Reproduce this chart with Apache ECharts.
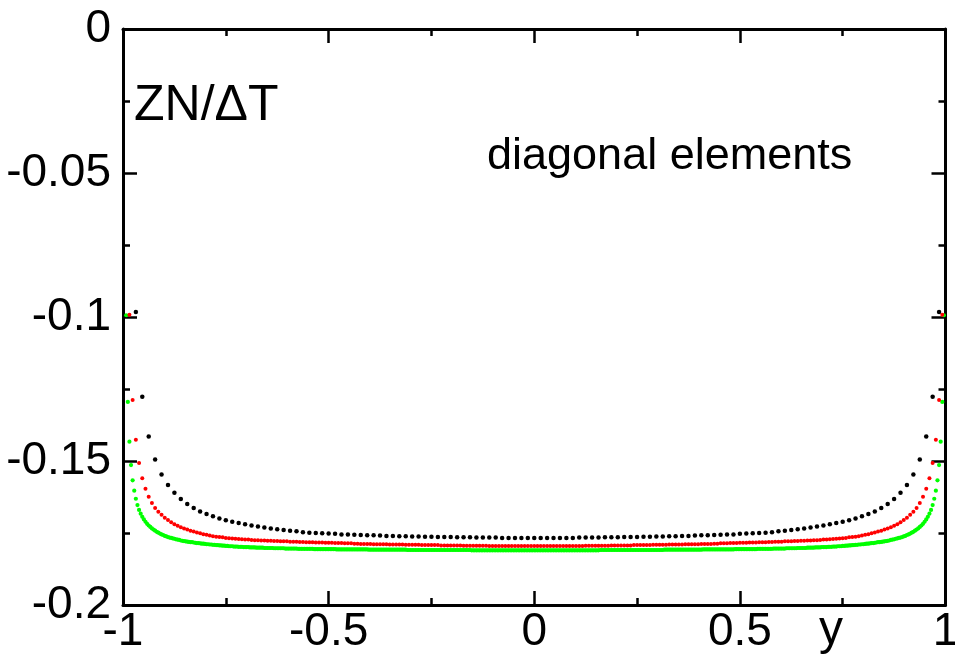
<!DOCTYPE html>
<html>
<head>
<meta charset="utf-8">
<script src="https://cdn.jsdelivr.net/npm/echarts@6/dist/echarts.min.js"></script>
<style>
  html, body { margin: 0; padding: 0; background: #fff; }
  #chart { width: 955px; height: 656px; }
</style>
</head>
<body>
<div id="chart"></div>
<script>
// diagonal elements of ZN/dT on three grids, y values in units of 1e-4
// grid points j = 2 .. N-1, x = -1 + 2j/N
const blackN = 128
const redN = 256
const greenN = 512

const blackY = [
  -983,-1277,-1415,-1495,-1547,-1583,-1610,-1632,-1649,-1663,
  -1675,-1684,-1692,-1700,-1706,-1711,-1715,-1720,-1724,-1727,
  -1731,-1734,-1737,-1740,-1742,-1744,-1747,-1749,-1750,-1751,
  -1752,-1753,-1755,-1755,-1756,-1757,-1758,-1758,-1759,-1760,
  -1760,-1761,-1761,-1762,-1762,-1763,-1763,-1764,-1764,-1764,
  -1765,-1765,-1765,-1766,-1766,-1766,-1766,-1767,-1767,-1767,
  -1767,-1767,-1767,
  -1767,-1767,-1767,-1767,-1767,-1767,-1766,-1766,-1766,-1766,
  -1765,-1765,-1765,-1764,-1764,-1764,-1763,-1763,-1762,-1762,
  -1761,-1761,-1760,-1760,-1759,-1758,-1758,-1757,-1756,-1755,
  -1755,-1753,-1752,-1751,-1750,-1749,-1747,-1744,-1742,-1740,
  -1737,-1734,-1731,-1727,-1724,-1720,-1715,-1711,-1706,-1700,
  -1692,-1684,-1675,-1663,-1649,-1632,-1610,-1583,-1547,-1495,
  -1415,-1277,-983
]

const redY = [
  -992,-1288,-1426,-1507,-1560,-1596,-1624,-1646,-1663,-1676,
  -1687,-1697,-1705,-1713,-1720,-1725,-1730,-1734,-1738,-1742,
  -1745,-1748,-1751,-1754,-1756,-1759,-1761,-1763,-1764,-1765,
  -1767,-1768,-1769,-1770,-1771,-1772,-1773,-1773,-1774,-1775,
  -1775,-1776,-1776,-1777,-1777,-1778,-1778,-1779,-1779,-1779,
  -1780,-1780,-1780,-1781,-1781,-1782,-1782,-1782,-1783,-1783,
  -1783,-1784,-1784,-1784,-1785,-1785,-1785,-1786,-1786,-1786,
  -1787,-1787,-1788,-1788,-1788,-1788,-1789,-1789,-1789,-1789,
  -1789,-1790,-1790,-1790,-1790,-1790,-1791,-1791,-1791,-1791,
  -1791,-1792,-1792,-1792,-1792,-1792,-1792,-1793,-1793,-1793,
  -1793,-1793,-1793,-1793,-1794,-1794,-1794,-1794,-1794,-1794,
  -1794,-1794,-1795,-1795,-1795,-1795,-1795,-1795,-1795,-1795,
  -1795,-1795,-1795,-1795,-1795,-1795,-1795,
  -1795,-1795,-1795,-1795,-1795,-1795,-1795,
  -1795,-1795,-1795,-1795,-1795,-1795,-1795,-1795,-1794,-1794,
  -1794,-1794,-1794,-1794,-1794,-1794,-1793,-1793,-1793,-1793,
  -1793,-1793,-1793,-1792,-1792,-1792,-1792,-1792,-1792,-1791,
  -1791,-1791,-1791,-1791,-1790,-1790,-1790,-1790,-1790,-1789,
  -1789,-1789,-1789,-1789,-1788,-1788,-1788,-1788,-1787,-1787,
  -1786,-1786,-1786,-1785,-1785,-1785,-1784,-1784,-1784,-1783,
  -1783,-1783,-1782,-1782,-1782,-1781,-1781,-1780,-1780,-1780,
  -1779,-1779,-1779,-1778,-1778,-1777,-1777,-1776,-1776,-1775,
  -1775,-1774,-1773,-1773,-1772,-1771,-1770,-1769,-1768,-1767,
  -1765,-1764,-1763,-1761,-1759,-1756,-1754,-1751,-1748,-1745,
  -1742,-1738,-1734,-1730,-1725,-1720,-1713,-1705,-1697,-1687,
  -1676,-1663,-1646,-1624,-1596,-1560,-1507,-1426,-1288,-992
]

const greenY = [
  -994,-1295,-1433,-1514,-1567,-1603,-1631,-1653,-1670,-1683,
  -1694,-1703,-1711,-1718,-1724,-1729,-1734,-1738,-1742,-1746,
  -1749,-1752,-1755,-1757,-1760,-1762,-1764,-1766,-1767,-1769,
  -1770,-1772,-1773,-1774,-1776,-1777,-1778,-1779,-1780,-1781,
  -1782,-1782,-1783,-1784,-1785,-1785,-1786,-1787,-1787,-1788,
  -1789,-1789,-1790,-1790,-1791,-1791,-1792,-1792,-1793,-1793,
  -1794,-1794,-1795,-1795,-1796,-1796,-1796,-1797,-1797,-1797,
  -1798,-1798,-1798,-1799,-1799,-1799,-1799,-1800,-1800,-1800,
  -1800,-1801,-1801,-1801,-1801,-1801,-1802,-1802,-1802,-1802,
  -1802,-1802,-1803,-1803,-1803,-1803,-1803,-1803,-1803,-1804,
  -1804,-1804,-1804,-1804,-1804,-1804,-1804,-1805,-1805,-1805,
  -1805,-1805,-1805,-1805,-1805,-1805,-1805,-1806,-1806,-1806,
  -1806,-1806,-1806,-1806,-1806,-1806,-1806,-1806,-1806,-1806,
  -1806,-1807,-1807,-1807,-1807,-1807,-1807,-1807,-1807,-1807,
  -1807,-1807,-1807,-1807,-1807,-1807,-1807,-1807,-1807,-1807,
  -1807,-1808,-1808,-1808,-1808,-1808,-1808,-1808,-1808,-1808,
  -1808,-1808,-1808,-1808,-1808,-1808,-1808,-1808,-1808,-1808,
  -1808,-1808,-1808,-1808,-1808,-1809,-1809,-1809,-1809,-1809,
  -1809,-1809,-1809,-1809,-1809,-1809,-1809,-1809,-1809,-1809,
  -1809,-1809,-1809,-1809,-1809,-1809,-1809,-1809,-1809,-1809,
  -1809,-1809,-1809,-1809,-1809,-1809,-1809,-1809,-1809,-1809,
  -1809,-1809,-1809,-1809,-1809,-1810,-1810,-1810,-1810,-1810,
  -1810,-1810,-1810,-1810,-1810,-1810,-1810,-1810,-1810,-1810,
  -1810,-1810,-1810,-1810,-1810,-1810,-1810,-1810,-1810,-1810,
  -1810,-1810,-1810,-1810,-1810,-1810,-1810,-1810,-1810,-1810,
  -1810,-1810,-1810,-1810,-1810,
  -1810,-1810,-1810,-1810,-1810,
  -1810,-1810,-1810,-1810,-1810,-1810,-1810,-1810,-1810,-1810,
  -1810,-1810,-1810,-1810,-1810,-1810,-1810,-1810,-1810,-1810,
  -1810,-1810,-1810,-1810,-1810,-1810,-1810,-1810,-1810,-1810,
  -1810,-1810,-1810,-1810,-1810,-1809,-1809,-1809,-1809,-1809,
  -1809,-1809,-1809,-1809,-1809,-1809,-1809,-1809,-1809,-1809,
  -1809,-1809,-1809,-1809,-1809,-1809,-1809,-1809,-1809,-1809,
  -1809,-1809,-1809,-1809,-1809,-1809,-1809,-1809,-1809,-1809,
  -1809,-1809,-1809,-1809,-1809,-1808,-1808,-1808,-1808,-1808,
  -1808,-1808,-1808,-1808,-1808,-1808,-1808,-1808,-1808,-1808,
  -1808,-1808,-1808,-1808,-1808,-1808,-1808,-1808,-1808,-1807,
  -1807,-1807,-1807,-1807,-1807,-1807,-1807,-1807,-1807,-1807,
  -1807,-1807,-1807,-1807,-1807,-1807,-1807,-1807,-1807,-1806,
  -1806,-1806,-1806,-1806,-1806,-1806,-1806,-1806,-1806,-1806,
  -1806,-1806,-1806,-1805,-1805,-1805,-1805,-1805,-1805,-1805,
  -1805,-1805,-1805,-1804,-1804,-1804,-1804,-1804,-1804,-1804,
  -1804,-1803,-1803,-1803,-1803,-1803,-1803,-1803,-1802,-1802,
  -1802,-1802,-1802,-1802,-1801,-1801,-1801,-1801,-1801,-1800,
  -1800,-1800,-1800,-1799,-1799,-1799,-1799,-1798,-1798,-1798,
  -1797,-1797,-1797,-1796,-1796,-1796,-1795,-1795,-1794,-1794,
  -1793,-1793,-1792,-1792,-1791,-1791,-1790,-1790,-1789,-1789,
  -1788,-1787,-1787,-1786,-1785,-1785,-1784,-1783,-1782,-1782,
  -1781,-1780,-1779,-1778,-1777,-1776,-1774,-1773,-1772,-1770,
  -1769,-1767,-1766,-1764,-1762,-1760,-1757,-1755,-1752,-1749,
  -1746,-1742,-1738,-1734,-1729,-1724,-1718,-1711,-1703,-1694,
  -1683,-1670,-1653,-1631,-1603,-1567,-1514,-1433,-1295,-994
]

const xTicks = { min: -1, max: 1, interval: 0.5 }
const yTicks = { min: -0.2, max: 0, interval: 0.05 }

const toPoints = (ys, n) => ys.map((v, i) => [-1 + (i + 2) * 2 / n, v / 1e4])

const font = 'Liberation Sans, Arial, sans-serif'
const black = '#000'

const axisCommon = {
  type: 'value',
  axisLine: { show: true, onZero: false, lineStyle: { color: black, width: 3 } },
  axisTick: { show: true, inside: true, length: 14, lineStyle: { color: black, width: 2.5 } },
  minorTick: { show: true, splitNumber: 2, length: 7, lineStyle: { color: black, width: 2.5 } },
  splitLine: { show: false },
  minorSplitLine: { show: false }
}

const xAxisOf = (pos, showLabel) => ({
  ...axisCommon,
  ...xTicks,
  position: pos,
  axisLabel: { show: showLabel, fontSize: 46, fontFamily: font, color: black, margin: 4 }
})
const yAxisOf = (pos, showLabel) => ({
  ...axisCommon,
  ...yTicks,
  position: pos,
  axisLabel: { show: showLabel, fontSize: 46, fontFamily: font, color: black, margin: 12 }
})

const dots = (name, ys, n, color, size) => ({
  name,
  type: 'scatter',
  data: toPoints(ys, n),
  symbol: 'circle',
  symbolSize: size,
  itemStyle: { color, opacity: 1 },
  silent: true
})

const chart = echarts.init(document.getElementById('chart'), null, { renderer: 'canvas' })
chart.setOption({
  animation: false,
  backgroundColor: '#fff',
  grid: { left: 123, right: 9.5, top: 29, bottom: 51, containLabel: false, outerBoundsMode: 'none' },
  xAxis: [xAxisOf('bottom', true), xAxisOf('top', false)],
  yAxis: [yAxisOf('left', true), yAxisOf('right', false)],
  series: [
    dots('N=512', greenY, greenN, '#00ff00', 4.2),
    dots('N=256', redY, redN, '#ff0000', 4),
    dots('N=128', blackY, blackN, '#000000', 4.5)
  ],
  graphic: [
    { type: 'text', style: { x: 134, y: 106, text: 'ZN/ΔT', font: `50px ${font}`, fill: black, verticalAlign: 'middle' } },
    { type: 'text', style: { x: 487, y: 157, text: 'diagonal elements', font: `45px ${font}`, fill: black, verticalAlign: 'middle' } },
    { type: 'text', style: { x: 831, y: 631, text: 'y', font: `48px ${font}`, fill: black, align: 'center', verticalAlign: 'middle' } }
  ]
})
</script>
</body>
</html>
